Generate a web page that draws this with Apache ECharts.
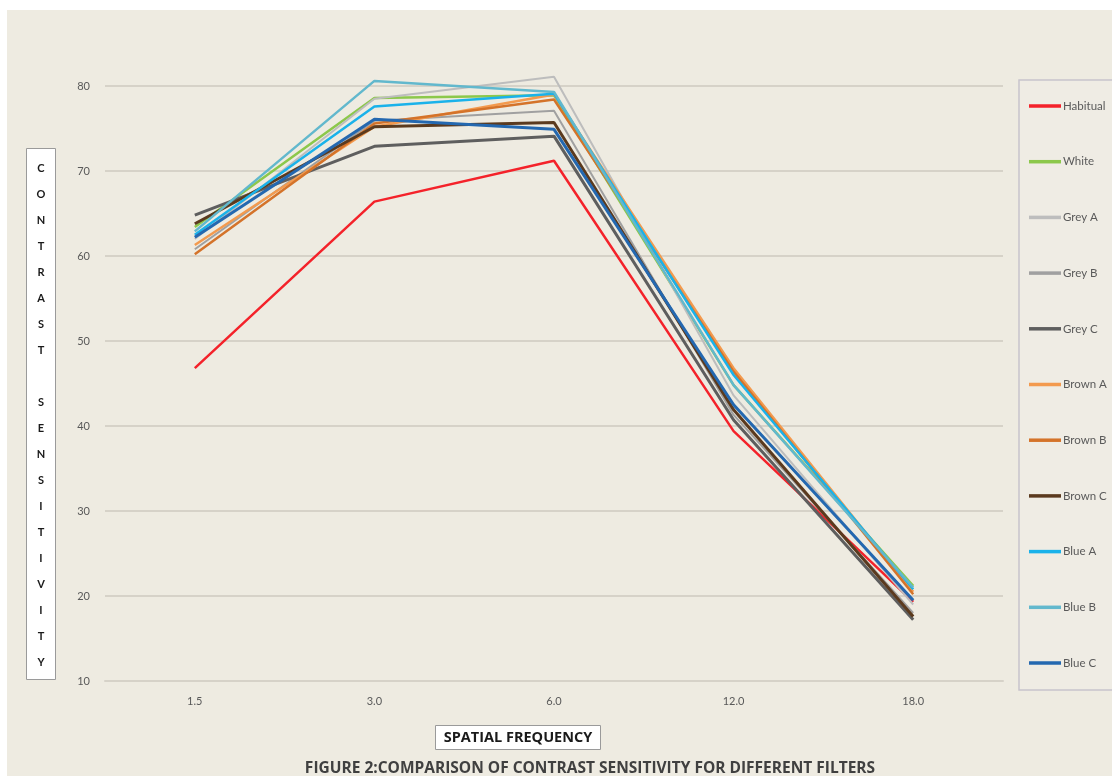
<!DOCTYPE html>
<html>
<head>
<meta charset="utf-8">
<script src="https://cdn.jsdelivr.net/npm/echarts@6/dist/echarts.min.js"></script>
<style>
  html, body { margin: 0; padding: 0; background: #ffffff; overflow: hidden; width: 1112px; height: 776px; }
  #chart { position: absolute; left: 7px; top: 10px; width: 1150px; height: 766px; }
</style>
</head>
<body>
<div id="chart"></div>
<script>
// Spatial frequency categories (cycles per degree)
const frequencies = ['1.5', '3.0', '6.0', '12.0', '18.0'];

// Contrast sensitivity for each filter condition
const habitual = [46.8, 66.4, 71.2, 39.4, 19.3];
const white    = [63.4, 78.6, 78.9, 44.8, 21.2];
const greyA    = [62.0, 78.5, 81.1, 43.6, 19.0];
const greyB    = [60.8, 75.9, 77.1, 41.3, 18.0];
const greyC    = [64.8, 72.9, 74.1, 40.7, 17.2];
const brownA   = [61.3, 75.2, 79.0, 46.8, 20.5];
const brownB   = [60.2, 75.6, 78.4, 46.4, 20.2];
const brownC   = [63.8, 75.2, 75.7, 41.9, 17.6];
const blueA    = [62.5, 77.6, 79.1, 46.0, 20.8];
const blueB    = [62.9, 80.6, 79.3, 44.8, 21.0];
const blueC    = [62.2, 76.1, 74.9, 42.5, 19.5];

const seriesNames = ['Habitual', 'White', 'Grey A', 'Grey B', 'Grey C', 'Brown A', 'Brown B', 'Brown C', 'Blue A', 'Blue B', 'Blue C'];
const seriesData  = [habitual, white, greyA, greyB, greyC, brownA, brownB, brownC, blueA, blueB, blueC];
const seriesColors = ['#F4222A', '#8CC84B', '#BDBDBD', '#A0A0A0', '#5E5E5E', '#F39A4E', '#D4732A', '#5B3A1E', '#1AB2EA', '#62B8CD', '#2468B0'];
const seriesWidths = [2.5, 2.5, 2, 2, 3, 2.5, 2.5, 3, 2.5, 2.5, 3];

// Vertical axis caption, one letter per line
const yTitle = 'CONTRAST SENSITIVITY'.split('').join('\n');

const chart = echarts.init(document.getElementById('chart'), null, { renderer: 'canvas' });

const series = seriesNames.map((name, i) => ({
  name: name,
  type: 'line',
  data: seriesData[i],
  symbol: 'none',
  clip: false,
  color: seriesColors[i],
  lineStyle: { width: seriesWidths[i], color: seriesColors[i] },
  emphasis: { disabled: true }
}));

chart.setOption({
  backgroundColor: '#EEEBE1',
  animation: false,
  textStyle: { fontFamily: 'Lato, "Open Sans", sans-serif' },
  title: [
    {
      text: yTitle,
      left: 24,
      top: 138,
      textAlign: 'center',
      padding: [7, 10, 5, 10],
      backgroundColor: '#ffffff',
      borderColor: '#9A9A9A',
      borderWidth: 1,
      textStyle: { fontSize: 11, fontWeight: 'bold', color: '#1a1a1a', lineHeight: 26, fontFamily: 'Lato, sans-serif' }
    },
    {
      text: 'SPATIAL FREQUENCY',
      left: 503,
      top: 715,
      textAlign: 'center',
      padding: [5, 8, 5, 8],
      backgroundColor: '#ffffff',
      borderColor: '#9A9A9A',
      borderWidth: 1,
      textStyle: { fontSize: 14.5, fontWeight: 'bold', color: '#1a1a1a', fontFamily: '"Open Sans", sans-serif' }
    },
    {
      text: 'FIGURE 2:COMPARISON OF CONTRAST SENSITIVITY FOR DIFFERENT FILTERS',
      left: 583,
      top: 751,
      textAlign: 'center',
      padding: 0,
      textStyle: { fontSize: 15.5, fontWeight: 'bold', color: '#404040', fontFamily: '"Open Sans", sans-serif' }
    }
  ],
  legend: {
    orient: 'vertical',
    left: 1012,
    top: 70,
    padding: [20, 60, 21, 10],
    itemGap: 43.7,
    itemWidth: 32,
    itemHeight: 14,
    icon: 'path://M0,0 L32,0 L32,3.5 L0,3.5 Z',
    backgroundColor: '#EFECE4',
    borderColor: '#C8C4CC',
    borderWidth: 1.5,
    textStyle: { fontSize: 11.5, color: '#5a5a5a', padding: [0, 0, 0, -3] },
    data: seriesNames
  },
  grid: { left: 98, right: 154, top: 76, bottom: 95, containLabel: false },
  xAxis: {
    type: 'category',
    data: frequencies,
    boundaryGap: true,
    axisLine: { show: true, lineStyle: { color: '#D6D2C8', width: 2 } },
    axisTick: { show: false },
    axisLabel: { fontSize: 11, color: '#595959', margin: 15 },
    splitLine: { show: false }
  },
  yAxis: {
    type: 'value',
    min: 10,
    max: 80,
    interval: 10,
    axisLine: { show: false },
    axisTick: { show: false },
    axisLabel: { fontSize: 11, color: '#595959', margin: 15 },
    splitLine: { show: true, lineStyle: { color: '#D6D2C8', width: 2 } }
  },
  series: series
});
</script>
</body>
</html>
